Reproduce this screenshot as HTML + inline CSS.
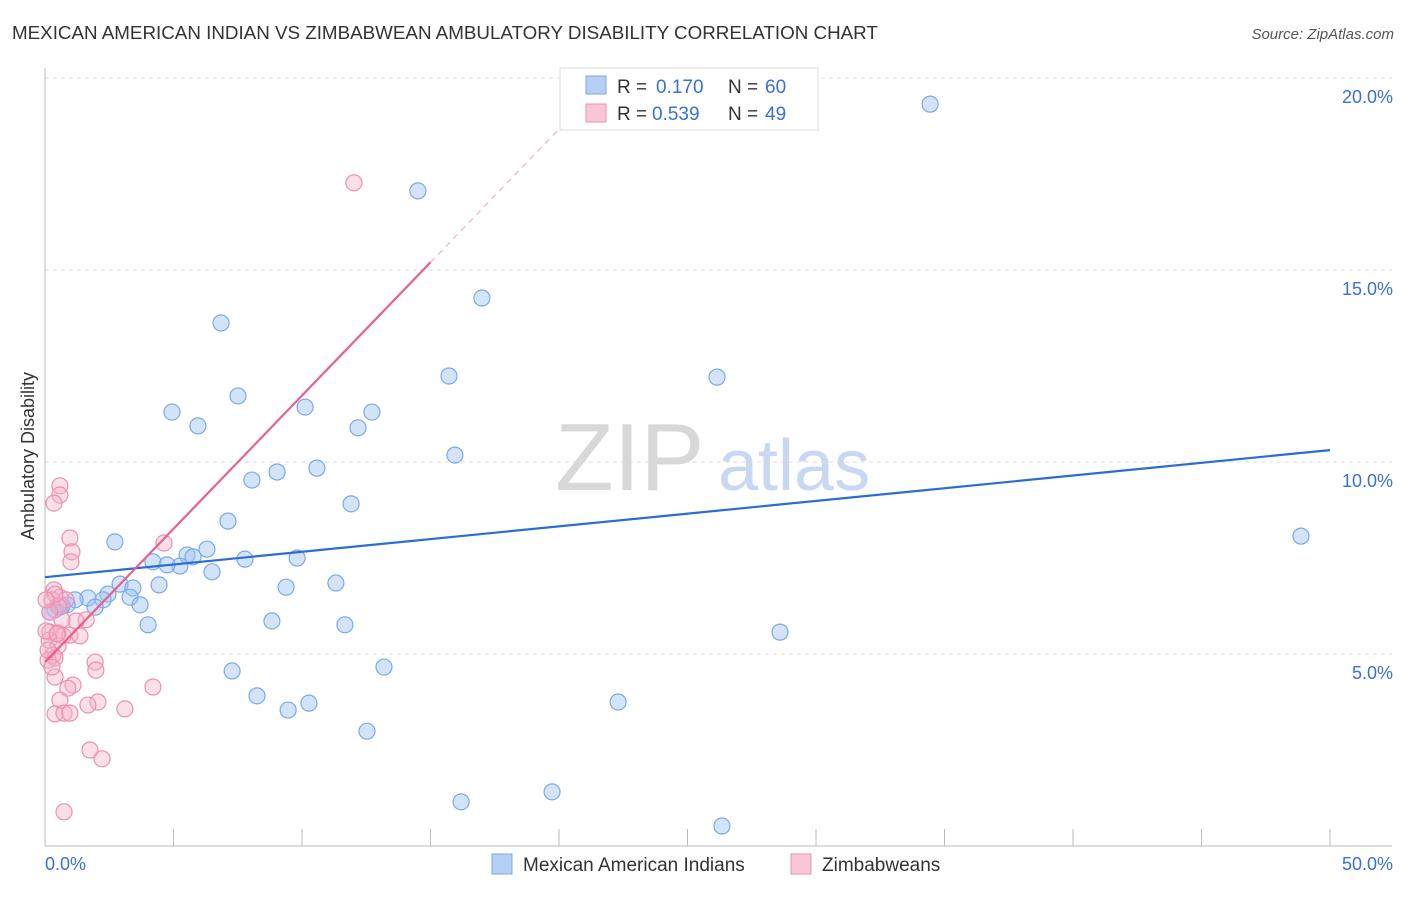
<!DOCTYPE html>
<html><head><meta charset="utf-8"><style>
body{margin:0;background:#fff;font-family:"Liberation Sans",sans-serif;}
svg text{font-family:"Liberation Sans",sans-serif;}
</style></head><body>
<svg width="1406" height="892" viewBox="0 0 1406 892" xmlns="http://www.w3.org/2000/svg">
<text x="12" y="39" font-size="18.8" fill="#333">MEXICAN AMERICAN INDIAN VS ZIMBABWEAN AMBULATORY DISABILITY CORRELATION CHART</text>
<text x="1394" y="39" font-size="15" fill="#555" font-style="italic" text-anchor="end">Source: ZipAtlas.com</text>
<g id="grid"></g>
<g id="axes"></g>
<text x="555" y="490" font-size="96" fill="#d8d8d8" font-family="Liberation Serif">ZIP</text>
<text x="718" y="490" font-size="72" fill="#c8d8f0">atlas</text>
<g id="pts"></g>
<g id="lines"></g>
<text transform="translate(34,456) rotate(-90)" font-size="18" fill="#333" text-anchor="middle">Ambulatory Disability</text>
<text x="45" y="870" font-size="18" fill="#3a6fd8">0.0%</text>
<text x="1393" y="870" font-size="18" fill="#3a6fd8" text-anchor="end">50.0%</text>
<g>
<rect x="560" y="68" width="258" height="62" fill="#fff" stroke="#ddd"/>
<rect x="586" y="76" width="20" height="18" fill="#b5cff5" stroke="#7aaae8"/>
<rect x="586" y="104" width="20" height="18" fill="#f9c6d6" stroke="#ee8fb0"/>
<text x="617" y="93" font-size="19" fill="#333">R =</text>
<text x="656" y="93" font-size="19" fill="#3a6fd8">0.170</text>
<text x="728" y="93" font-size="19" fill="#333">N =</text>
<text x="765" y="93" font-size="19" fill="#3a6fd8">60</text>
<text x="617" y="120" font-size="19" fill="#333">R =</text>
<text x="652" y="120" font-size="19" fill="#3a6fd8">0.539</text>
<text x="728" y="120" font-size="19" fill="#333">N =</text>
<text x="765" y="120" font-size="19" fill="#3a6fd8">49</text>
</g>
<g>
<rect x="492" y="854" width="20" height="20" fill="#b5cff5" stroke="#7aaae8"/>
<text x="523" y="871" font-size="19" fill="#333">Mexican American Indians</text>
<rect x="791" y="854" width="20" height="20" fill="#f9c6d6" stroke="#ee8fb0"/>
<text x="822" y="871" font-size="19" fill="#333">Zimbabweans</text>
</g>
</svg>
<script>
const yTicks=[5,10,15,20];
const yTickLabels=["5.0%","10.0%","15.0%","20.0%"];
const xTicks=[0,5,10,15,20,25,30,35,40,45,50];
const blueX=[34.44,14.51,17.00,6.85,15.72,26.15,7.51,10.12,4.94,12.72,5.95,12.18,15.95,10.58,9.03,8.05,11.91,7.12,2.72,6.30,5.53,9.81,7.78,5.76,4.20,5.25,4.75,6.50,48.87,11.32,4.44,2.92,9.38,3.42,2.45,1.67,1.17,3.31,2.26,3.70,1.95,0.86,0.58,0.39,0.19,8.83,4.01,11.67,28.60,7.28,13.19,8.25,10.27,9.46,22.30,12.53,16.19,19.73,26.34,0.66];
const blueY=[19.32,17.06,14.27,13.62,12.24,12.21,11.72,11.43,11.30,11.30,10.94,10.89,10.18,9.84,9.74,9.53,8.91,8.46,7.92,7.73,7.58,7.50,7.47,7.53,7.40,7.29,7.32,7.14,8.07,6.85,6.80,6.82,6.74,6.72,6.56,6.46,6.41,6.48,6.41,6.28,6.22,6.28,6.22,6.15,6.09,5.86,5.76,5.76,5.57,4.56,4.66,3.91,3.72,3.54,3.75,2.99,1.15,1.41,0.52,6.25];
const pinkX=[12.02,0.58,0.58,0.35,0.97,1.05,1.01,4.63,0.35,0.58,0.27,0.82,0.51,1.60,1.21,0.19,0.51,0.70,0.97,0.16,0.51,0.31,0.12,0.39,1.95,1.98,0.39,1.09,0.89,4.20,0.58,2.06,1.67,3.11,0.39,0.74,0.97,1.75,2.22,0.74,0.19,0.39,0.12,0.66,0.04,1.36,0.04,0.27,0.47];
const pinkY=[17.27,9.38,9.14,8.93,8.02,7.66,7.40,7.89,6.67,6.48,6.41,6.41,6.25,5.89,5.86,5.57,5.55,5.47,5.49,5.36,5.21,4.97,4.84,4.90,4.79,4.58,4.40,4.19,4.11,4.14,3.80,3.75,3.67,3.57,3.44,3.46,3.46,2.50,2.27,0.89,6.09,6.56,5.10,5.89,6.41,5.47,5.60,4.66,5.52];
const blueTrend=[7.0,10.31];
const pinkTrend=[4.79,15.2];
const pinkTrendEndX=15;
const NS="http://www.w3.org/2000/svg";
const X=v=>45+v*25.7, Y=v=>846-v*38.4;
function mk(tag,attrs,parent){const e=document.createElementNS(NS,tag);for(const k in attrs)e.setAttribute(k,attrs[k]);parent.appendChild(e);return e;}
const grid=document.getElementById('grid'),axes=document.getElementById('axes'),pts=document.getElementById('pts'),lines=document.getElementById('lines');
yTicks.forEach((t,i)=>{
 const l=mk('line',{x1:45,x2:1392,y1:Y(t),y2:Y(t),stroke:'#ddd','stroke-dasharray':'4,4'},grid);
 
 
 const tx=mk('text',{x:1393,y:Y(t)+25,'font-size':18,fill:'#3a6fd8','text-anchor':'end'},grid);
 tx.textContent=yTickLabels[i];
 
 
});
const gt=mk('line',{x1:45,x2:1392,y1:78,y2:78,stroke:'#ddd','stroke-dasharray':'4,4'},grid);


const ya=mk('line',{x1:45,x2:45,y1:68,y2:846,stroke:'#bbb'},axes);


const xa=mk('line',{x1:45,x2:1392,y1:846,y2:846,stroke:'#bbb'},axes);


xTicks.forEach(t=>{
 const l=mk('line',{x1:X(t),x2:X(t),y1:829,y2:846,stroke:'#bbb'},axes);
 
 
});
blueX.forEach((v,i)=>{
 const c=mk('circle',{cx:X(v),cy:Y(blueY[i]),r:8,fill:'rgba(160,196,240,0.45)',stroke:'#7aaae8','stroke-width':1.2},pts);
 
 
});
pinkX.forEach((v,i)=>{
 const c=mk('circle',{cx:X(v),cy:Y(pinkY[i]),r:8,fill:'rgba(246,178,200,0.4)',stroke:'#ee8fb0','stroke-width':1.2},pts);
 
 
});
const bl=mk('line',{x1:X(0),y1:Y(blueTrend[0]),x2:X(50),y2:Y(blueTrend[1]),stroke:'#2a6dd6','stroke-width':2.2},lines);


const slope=(pinkTrend[1]-pinkTrend[0])/pinkTrendEndX;
const pl=mk('line',{x1:X(0),y1:Y(pinkTrend[0]),x2:X(pinkTrendEndX),y2:Y(pinkTrend[1]),stroke:'#e8608e','stroke-width':2.2},lines);


const xe=20;
const pd=mk('line',{x1:X(pinkTrendEndX),y1:Y(pinkTrend[1]),x2:X(xe),y2:Y(pinkTrend[0]+slope*xe),stroke:'#f0b0c4','stroke-width':1.2,'stroke-dasharray':'6,5'},lines);


</script>
</body></html>
